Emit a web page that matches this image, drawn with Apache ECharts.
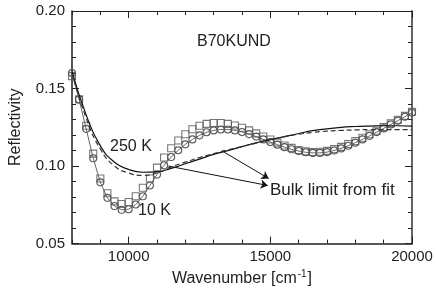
<!DOCTYPE html>
<html><head><meta charset="utf-8">
<script src="https://cdn.jsdelivr.net/npm/echarts@6/dist/echarts.min.js"></script>
<style>html,body{margin:0;padding:0;background:#fff}#c{width:436px;height:292px}</style>
</head><body><div id="c"></div>
<script>
// ---- data ----
const wavenumbers = [8000,8250,8500,8750,9000,9250,9500,9750,10000,10250,10500,10750,11000,11250,11500,11750,12000,12250,12500,12750,13000,13250,13500,13750,14000,14250,14500,14750,15000,15250,15500,15750,16000,16250,16500,16750,17000,17250,17500,17750,18000,18250,18500,18750,19000,19250,19500,19750,20000];
const squareVals = [0.158,0.143,0.126,0.108,0.092,0.0825,0.0772,0.0755,0.0768,0.0805,0.0860,0.0920,0.0990,0.1055,0.1115,0.1165,0.1205,0.1237,0.1260,0.1272,0.1278,0.1278,0.1272,0.1262,0.1247,0.1230,0.1211,0.1191,0.1171,0.1151,0.1133,0.1117,0.1104,0.1095,0.1091,0.1092,0.1098,0.1109,0.1124,0.1142,0.1162,0.1183,0.1205,0.1228,0.1251,0.1275,0.1299,0.1324,0.1350];
const circleVals = [0.160,0.143,0.124,0.105,0.0895,0.0795,0.0742,0.0718,0.0722,0.0752,0.0805,0.0875,0.0945,0.1005,0.1058,0.1102,0.1140,0.1172,0.1198,0.1218,0.1230,0.1236,0.1236,0.1230,0.1220,0.1206,0.1190,0.1172,0.1155,0.1138,0.1122,0.1108,0.1097,0.1089,0.1085,0.1085,0.1090,0.1100,0.1114,0.1131,0.1151,0.1172,0.1195,0.1219,0.1243,0.1268,0.1293,0.1318,0.1345];
const fitWavenumbers = [8000,8500,9000,9500,10000,10500,11000,11500,12000,12500,13000,13500,14000,14500,15000,15500,16000,16500,17000,17500,18000,18500,19000,19500,20000];
const solidVals  = [0.161,0.133,0.113,0.1025,0.0978,0.0960,0.0963,0.0985,0.1015,0.1045,0.1075,0.1100,0.1125,0.1150,0.1170,0.1190,0.1210,0.1228,0.1240,0.1250,0.1255,0.1258,0.1260,0.1260,0.1258];
const dashedVals = [0.160,0.131,0.111,0.1000,0.0955,0.0940,0.0955,0.0995,0.1025,0.1055,0.1080,0.1105,0.1125,0.1148,0.1170,0.1190,0.1205,0.1217,0.1225,0.1230,0.1233,0.1235,0.1235,0.1235,0.1235];
const xMajorTicks = [10000, 15000, 20000];
const arrowLines = [[[13368, 0.1090], [14940, 0.0920]], [[11400, 0.1000], [14906, 0.0875]]];
const labels = {sample: 'B70KUND', warm: '250 K', cold: '10 K', bulk: 'Bulk limit from fit'};

const FONT = 'Liberation Sans, Arial, sans-serif';
const TXT = '#222';
const zip = (xs, ys) => xs.map((x, i) => [x, ys[i]]);

const chart = echarts.init(document.getElementById('c'));
const xCommon = {type: 'value', min: 8000, max: 20000, splitLine: {show: false}};
const yCommon = {type: 'value', min: 0.05, max: 0.20, interval: 0.05, splitLine: {show: false}};
chart.setOption({
  animation: false,
  backgroundColor: '#fff',
  grid: {left: 61, right: 24, top: 11, bottom: 45},
  xAxis: [
    Object.assign({}, xCommon, {
      position: 'bottom', interval: 1000,
      axisLine: {show: true, lineStyle: {color: TXT, width: 1.5}},
      axisTick: {show: true, inside: true, length: 4, lineStyle: {color: TXT}},
      axisLabel: {formatter: v => xMajorTicks.includes(v) ? String(v) : '', fontSize: 15, color: TXT, fontFamily: FONT, margin: 6},
      name: '{a|Wavenumber [cm}{s|-1}{a|]}', nameLocation: 'middle', nameGap: 22,
      nameTextStyle: {rich: {a: {fontSize: 16, color: TXT, fontFamily: FONT}, s: {fontSize: 10, color: TXT, fontFamily: FONT, padding: [0, 1, 9, 1]}}}
    }),
    Object.assign({}, xCommon, {
      position: 'bottom',
      axisLine: {show: false},
      axisTick: {show: true, inside: true, length: 7, customValues: xMajorTicks, lineStyle: {color: TXT}},
      axisLabel: {show: false}
    }),
    Object.assign({}, xCommon, {
      position: 'top', interval: 1000,
      axisLine: {show: true, lineStyle: {color: TXT, width: 1.2}},
      axisTick: {show: true, inside: true, length: 4, lineStyle: {color: TXT}},
      axisLabel: {show: false}
    }),
    Object.assign({}, xCommon, {
      position: 'top',
      axisLine: {show: false},
      axisTick: {show: true, inside: true, length: 7, customValues: xMajorTicks, lineStyle: {color: TXT}},
      axisLabel: {show: false}
    })
  ],
  yAxis: [
    Object.assign({}, yCommon, {
      position: 'left',
      axisLine: {show: true, lineStyle: {color: TXT, width: 1.5}},
      axisTick: {show: true, inside: true, length: 7, lineStyle: {color: TXT}},
      minorTick: {show: true, splitNumber: 5, length: 4, lineStyle: {color: TXT}},
      axisLabel: {formatter: v => v.toFixed(2), fontSize: 15, color: TXT, fontFamily: FONT, margin: 7},
      name: 'Reflectivity', nameLocation: 'middle', nameGap: 48, nameRotate: 90,
      nameTextStyle: {fontSize: 16, color: TXT, fontFamily: FONT}
    }),
    Object.assign({}, yCommon, {
      position: 'right',
      axisLine: {show: true, lineStyle: {color: '#555', width: 1.8}},
      axisTick: {show: true, inside: true, length: 7, lineStyle: {color: TXT}},
      minorTick: {show: true, splitNumber: 5, length: 4, lineStyle: {color: TXT}},
      axisLabel: {show: false}
    })
  ],
  series: [
    {
      type: 'scatter', xAxisIndex: 0, yAxisIndex: 0, data: zip(wavenumbers, squareVals),
      symbol: 'rect', symbolSize: 7, z: 2,
      itemStyle: {color: 'rgba(255,255,255,0)', borderColor: '#555', borderWidth: 1.1}
    },
    {
      type: 'line', xAxisIndex: 0, yAxisIndex: 0, data: zip(wavenumbers, circleVals),
      symbol: 'circle', symbolSize: 7, showSymbol: true, z: 3,
      lineStyle: {color: '#555', width: 0.9},
      itemStyle: {color: 'rgba(255,255,255,0)', borderColor: '#555', borderWidth: 1.1}
    },
    {
      type: 'line', xAxisIndex: 0, yAxisIndex: 0, data: zip(fitWavenumbers, solidVals),
      smooth: true, showSymbol: false, z: 4,
      lineStyle: {color: '#111', width: 1.2}
    },
    {
      type: 'line', xAxisIndex: 0, yAxisIndex: 0, data: zip(fitWavenumbers, dashedVals),
      smooth: true, showSymbol: false, z: 4,
      lineStyle: {color: '#333', width: 1.2, type: [5, 3]},
      markLine: {
        silent: true, symbol: ['none', 'arrow'], symbolSize: 7, label: {show: false},
        lineStyle: {color: '#111', width: 1, type: 'solid'},
        data: arrowLines.map(a => [{coord: a[0]}, {coord: a[1]}])
      }
    }
  ],
  graphic: [
    {type: 'text', x: 197, y: 42, style: {text: labels.sample, font: '16px ' + FONT, fill: TXT, textAlign: 'left', textVerticalAlign: 'middle'}},
    {type: 'text', x: 110, y: 147, style: {text: labels.warm, font: '16px ' + FONT, fill: TXT, textAlign: 'left', textVerticalAlign: 'middle'}},
    {type: 'text', x: 138, y: 211, style: {text: labels.cold, font: '16px ' + FONT, fill: TXT, textAlign: 'left', textVerticalAlign: 'middle'}},
    {type: 'text', x: 270, y: 190, style: {text: labels.bulk, font: '17px ' + FONT, fill: TXT, textAlign: 'left', textVerticalAlign: 'middle'}}
  ]
});
</script></body></html>
